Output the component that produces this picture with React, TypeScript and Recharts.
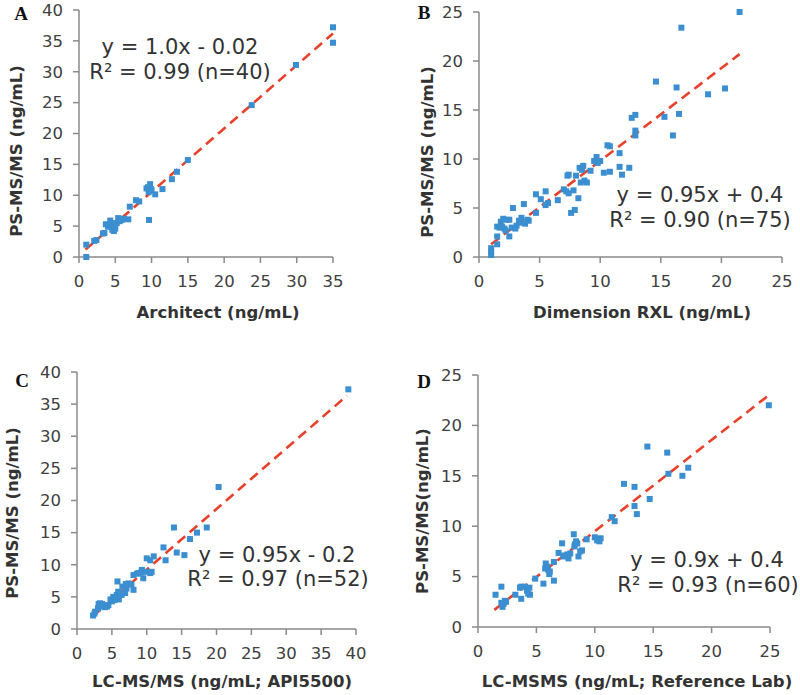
import React from "react";
import { ReferenceLine, Scatter, ScatterChart, XAxis, YAxis } from "recharts";

// PS-MS/MS vs comparison method, [x, y] in ng/mL
const pointsA: [number, number][] = [
  [1, 0], [1, 2], [2.1, 2.6], [2.4, 2.75], [3.3, 3.8], [3.5, 3.9], [3.7, 5.3], [4.0, 4.9], [4.2, 5.2],
  [4.3, 5.9], [4.4, 5.5], [4.5, 4.8], [4.6, 4.4], [4.8, 4.2], [5.0, 4.6], [5.2, 5.5], [5.4, 6.3],
  [5.6, 5.8], [5.9, 6.0], [6.2, 6.2], [6.8, 6.1], [7.0, 8.15], [7.85, 9.2], [8.3, 9.0], [9.65, 6.0],
  [9.3, 11.1], [9.5, 11.3], [9.8, 11.8], [9.9, 11.0], [10.0, 10.8], [9.6, 10.5], [10.5, 10.15],
  [11.5, 11.0], [12.8, 12.6], [13.5, 13.8], [15.0, 15.7], [23.8, 24.6], [29.9, 31.1], [35, 37.2], [35, 34.7],
];

const pointsB: [number, number][] = [
  [1, 0.2], [1, 0.55], [1, 0.9], [1.5, 1.3], [1.5, 2.1], [1.5, 3.1], [1.7, 3.0], [1.8, 3.6], [1.9, 3.1], [2.0, 3.9],
  [2.1, 2.9], [2.3, 3.8], [2.2, 2.7], [2.5, 2.1], [2.5, 3.8], [2.8, 5.0], [3.0, 2.9], [3.1, 3.2], [3.3, 3.7], [3.4, 3.5],
  [3.5, 4.0], [3.7, 5.4], [3.8, 3.4], [4.0, 3.8], [4.7, 4.5], [4.7, 6.4], [5.1, 5.9], [5.5, 6.7], [5.5, 5.3], [5.7, 5.5],
  [6.5, 5.8], [7.0, 6.9], [7.3, 8.3], [7.4, 8.4], [7.4, 6.5], [7.6, 4.5], [7.8, 6.8], [7.9, 4.8], [8.0, 8.3], [8.2, 6.0],
  [8.3, 9.1], [8.4, 7.6], [8.5, 8.9], [8.6, 9.3], [8.7, 7.8], [8.9, 7.6], [9.2, 8.8], [9.5, 9.8], [9.7, 10.2], [9.8, 9.6],
  [10.0, 9.8], [10.3, 8.6], [10.6, 11.4], [10.8, 11.3], [10.8, 8.7], [11.6, 10.6], [11.6, 9.2], [11.8, 8.4], [12.4, 9.1], [12.6, 14.2],
  [12.9, 14.5], [12.9, 12.9], [12.9, 12.4], [14.6, 17.9], [15.3, 14.3], [16.0, 12.4], [16.3, 17.3], [16.5, 14.6], [16.7, 23.4], [18.9, 16.6],
  [20.3, 17.2], [21.5, 25.0], [4.1, 3.7], [2.7, 3.0], [7.2, 6.7],
];

const pointsC: [number, number][] = [
  [2.3, 2.1], [2.6, 2.7], [3.0, 3.2], [3.3, 4.0], [3.5, 3.5], [3.8, 3.7], [4.0, 3.4], [4.5, 3.7], [5.0, 4.3], [5.4, 4.5],
  [5.7, 5.3], [5.9, 5.8], [5.8, 7.4], [6.4, 5.3], [6.9, 5.6], [7.1, 6.3], [7.4, 7.1], [7.8, 6.9], [8.1, 6.1], [8.1, 8.4],
  [8.8, 8.7], [9.3, 9.2], [9.5, 7.9], [10.0, 8.9], [10.5, 8.7], [10.7, 8.9], [10.0, 11.0], [10.5, 10.7], [11.0, 11.3], [12.4, 12.7],
  [12.7, 10.7], [13.9, 15.8], [14.3, 11.9], [15.4, 11.5], [16.2, 14.0], [17.2, 15.0], [18.6, 15.8], [20.3, 22.1], [38.9, 37.3], [4.8, 4.6],
  [3.1, 3.9], [2.5, 2.4], [6.2, 5.5], [5.2, 5.0], [4.3, 3.5], [6.0, 4.6], [8.6, 8.6], [9.2, 8.8], [6.5, 6.6], [3.6, 3.9],
  [7.0, 7.0], [5.6, 4.8],
];

const pointsD: [number, number][] = [
  [1.5, 3.2], [2.0, 4.0], [2.0, 2.4], [2.1, 2.0], [2.3, 2.6], [2.2, 2.3], [3.2, 3.2], [3.7, 4.0], [4.0, 4.0], [3.7, 2.8],
  [4.2, 3.6], [4.3, 3.3], [4.45, 3.2], [4.9, 4.8], [5.6, 4.3], [5.75, 5.8], [5.8, 6.3], [6.0, 5.7], [6.1, 5.25], [6.15, 5.5],
  [6.5, 4.6], [6.5, 6.45], [6.9, 7.35], [7.2, 8.3], [7.3, 7.0], [7.65, 7.2], [7.75, 6.8], [7.9, 7.3], [8.2, 9.2], [8.25, 8.0],
  [8.4, 8.5], [8.6, 7.0], [8.75, 7.5], [8.9, 7.6], [9.3, 8.7], [10.0, 8.9], [10.2, 8.6], [10.3, 8.7], [10.5, 8.8], [11.45, 10.9],
  [11.7, 10.5], [12.5, 14.2], [13.4, 13.9], [13.4, 12.0], [13.6, 11.2], [14.7, 12.7], [14.5, 17.9], [16.2, 17.3], [16.3, 15.2], [17.5, 15.0],
  [18.0, 15.8], [24.9, 22.0], [8.3, 8.2], [4.4, 3.9], [10.4, 8.5], [5.9, 6.0], [2.4, 2.5], [7.4, 7.1], [3.6, 3.9], [8.5, 8.3],
];

// regression line end points as drawn
const trendA = [{ x: 0.9, y: 1.2 }, { x: 35, y: 36.2 }];
const trendB = [{ x: 1.0, y: 1.3 }, { x: 21.5, y: 20.7 }];
const trendC = [{ x: 2.3, y: 2.0 }, { x: 38.7, y: 36.3 }];
const trendD = [{ x: 1.4, y: 1.7 }, { x: 24.9, y: 23.0 }];

const ticks35 = [0, 5, 10, 15, 20, 25, 30, 35];
const ticks40 = [0, 5, 10, 15, 20, 25, 30, 35, 40];
const ticks25 = [0, 5, 10, 15, 20, 25];

const yTitle = "PS-MS/MS (ng/mL)";
const yTitleD = "PS-MS/MS(ng/mL)";

const BLUE = "#3b8fd0";
const RED = "#e8402a";
const AXIS = "#8a8a8a";
const FONT = "'DejaVu Sans', sans-serif";

const Square = (props: any) => {
  const { cx, cy } = props;
  return <rect x={cx - 3} y={cy - 3} width={6} height={6} fill={BLUE} />;
};

interface PanelProps {
  left: number;
  top: number;
  height: number;
  plot: [number, number, number, number]; // x0, x1, y0, y1 in page px
  xTicks: number[];
  yTicks: number[];
  points: [number, number][];
  trend: { x: number; y: number }[];
}

function Panel({ left, top, height, plot, xTicks, yTicks, points, trend }: PanelProps) {
  const data = points.map(([x, y]) => ({ x, y }));
  const yw = 60;
  const xh = 30;
  const margin = {
    left: plot[0] - left - yw,
    right: left + 400 - plot[1],
    top: plot[2] - top,
    bottom: top + height - plot[3] - xh,
  };
  const tick = { fontSize: 16.5, fill: "#404040", fontFamily: FONT };
  return (
    <div style={{ position: "absolute", left, top }}>
      <ScatterChart width={400} height={height} margin={margin} style={{ overflow: "visible" }}>
        <XAxis
          type="number"
          dataKey="x"
          domain={[xTicks[0], xTicks[xTicks.length - 1]]}
          ticks={xTicks}
          height={xh}
          tick={tick}
          tickSize={6}
          tickMargin={12}
          interval={0}
          stroke={AXIS}
          strokeWidth={1.5}
        />
        <YAxis
          type="number"
          dataKey="y"
          domain={[yTicks[0], yTicks[yTicks.length - 1]]}
          ticks={yTicks}
          width={yw}
          tick={tick}
          tickSize={6}
          tickMargin={10}
          interval={0}
          stroke={AXIS}
          strokeWidth={1.5}
        />
        <Scatter data={data} shape={Square} isAnimationActive={false} />
        <ReferenceLine
          segment={trend}
          stroke={RED}
          strokeWidth={2.6}
          strokeDasharray="10 6"
          ifOverflow="visible"
        />
      </ScatterChart>
    </div>
  );
}

const abs = (x: number, y: number, extra: React.CSSProperties = {}): React.CSSProperties => ({
  position: "absolute",
  left: x,
  top: y,
  transform: "translate(-50%, -50%)",
  whiteSpace: "nowrap",
  lineHeight: 1,
  ...extra,
});

const titleStyle: React.CSSProperties = { fontFamily: FONT, fontWeight: "bold", fontSize: 16.5, color: "#333" };
const eqStyle: React.CSSProperties = { fontFamily: FONT, fontSize: 21, color: "#333" };
const letterStyle: React.CSSProperties = {
  fontFamily: "'Liberation Serif', 'Times New Roman', serif",
  fontWeight: "bold",
  fontSize: 19,
  color: "#111",
};
const rot = "translate(-50%, -50%) rotate(-90deg)";

export default function App() {
  return (
    <div style={{ position: "absolute", left: 0, top: 0, width: 800, height: 695, background: "#fff", overflow: "hidden" }}>
      <Panel left={0} top={0} height={340} plot={[79, 333, 10, 257]} xTicks={ticks35} yTicks={ticks40} points={pointsA} trend={trendA} />
      <Panel left={400} top={0} height={340} plot={[479, 782, 12, 257]} xTicks={ticks25} yTicks={ticks25} points={pointsB} trend={trendB} />
      <Panel left={0} top={340} height={355} plot={[77, 356, 372, 629]} xTicks={ticks40} yTicks={ticks40} points={pointsC} trend={trendC} />
      <Panel left={400} top={340} height={355} plot={[478, 770, 375, 627]} xTicks={ticks25} yTicks={ticks25} points={pointsD} trend={trendD} />

      <div style={abs(21, 13, letterStyle)}>A</div>
      <div style={abs(424, 12, letterStyle)}>B</div>
      <div style={abs(22, 380, letterStyle)}>C</div>
      <div style={abs(424, 381, letterStyle)}>D</div>

      <div style={abs(218, 313, titleStyle)}>Architect (ng/mL)</div>
      <div style={abs(642, 313, titleStyle)}>Dimension RXL (ng/mL)</div>
      <div style={abs(222, 682, titleStyle)}>LC-MS/MS (ng/mL; API5500)</div>
      <div style={abs(637, 682, titleStyle)}>LC-MSMS (ng/mL; Reference Lab)</div>

      <div style={abs(17, 151, { ...titleStyle, transform: rot })}>{yTitle}</div>
      <div style={abs(428, 152, { ...titleStyle, transform: rot })}>{yTitle}</div>
      <div style={abs(13, 513, { ...titleStyle, transform: rot })}>{yTitle}</div>
      <div style={abs(423, 511, { ...titleStyle, transform: rot })}>{yTitleD}</div>

      <div style={abs(180, 47, eqStyle)}>y = 1.0x - 0.02</div>
      <div style={abs(180, 72, eqStyle)}>R² = 0.99 (n=40)</div>
      <div style={abs(700, 195, eqStyle)}>y = 0.95x + 0.4</div>
      <div style={abs(700, 220, eqStyle)}>R² = 0.90 (n=75)</div>
      <div style={abs(277, 555, eqStyle)}>y = 0.95x - 0.2</div>
      <div style={abs(278, 579, eqStyle)}>R² = 0.97 (n=52)</div>
      <div style={abs(707, 560, eqStyle)}>y = 0.9x + 0.4</div>
      <div style={abs(708, 585, eqStyle)}>R² = 0.93 (n=60)</div>
    </div>
  );
}
